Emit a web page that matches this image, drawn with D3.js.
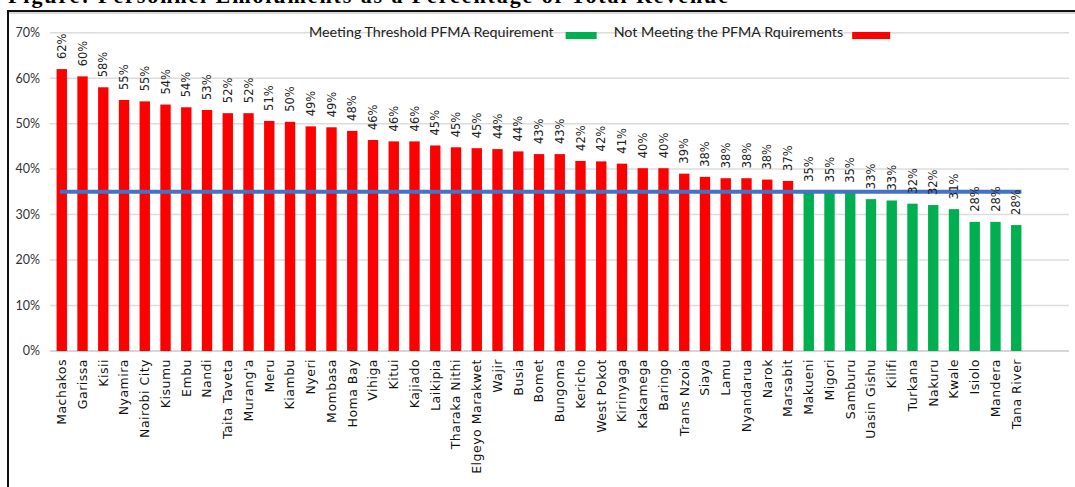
<!DOCTYPE html>
<html>
<head>
<meta charset="utf-8">
<script src="https://cdn.jsdelivr.net/npm/d3@7"></script>
<style>
  html, body { margin: 0; padding: 0; background: #fff; }
  svg { display: block; }
</style>
</head>
<body>
<svg id="chart" width="1075" height="487"></svg>
<script>
const counties = ["Machakos","Garissa","Kisii","Nyamira","Nairobi City","Kisumu","Embu","Nandi","Taita Taveta","Murang'a","Meru","Kiambu","Nyeri","Mombasa","Homa Bay","Vihiga","Kitui","Kajiado","Laikipia","Tharaka Nithi","Elgeyo Marakwet","Wajir","Busia","Bomet","Bungoma","Kericho","West Pokot","Kirinyaga","Kakamega","Baringo","Trans Nzoia","Siaya","Lamu","Nyandarua","Narok","Marsabit","Makueni","Migori","Samburu","Uasin Gishu","Kilifi","Turkana","Nakuru","Kwale","Isiolo","Mandera","Tana River"];
const shares = [62.0,60.4,58.0,55.2,54.9,54.2,53.6,53.0,52.3,52.3,50.6,50.4,49.4,49.2,48.4,46.4,46.1,46.1,45.2,44.8,44.6,44.4,43.9,43.3,43.3,41.8,41.7,41.2,40.2,40.2,39.0,38.3,38.0,38.0,37.7,37.4,35.0,34.9,34.8,33.4,33.1,32.4,32.1,31.2,28.4,28.4,27.7];
const threshold = 35;
const yTicks = [0,10,20,30,40,50,60,70];
const legendLabels = ["Meeting Threshold PFMA Requirement","Not Meeting the PFMA Rquirements"];
const titleText = "Figure: Personnel Emoluments as a Percentage of Total Revenue";

const data = counties.map((c,i)=>({county:c, value:shares[i]}));
const svg = d3.select("#chart");
const GREEN = "#00B050", RED = "#FF0000", BLUE = "#4472C4";

// title (cut off at top, as in the source)
svg.append("text").attr("x", 8).attr("y", 3)
  .attr("font-family", "Liberation Serif, serif").attr("font-weight", "bold")
  .attr("font-size", 22).attr("fill", "#000")
  .attr("textLength", 720).attr("lengthAdjust", "spacing")
  .text(titleText);

// frame
svg.append("line").attr("x1", 8).attr("x2", 1075).attr("y1", 13).attr("y2", 13).attr("stroke", "#ccc").attr("stroke-width", 1.5);
svg.append("line").attr("x1", 7).attr("x2", 1075).attr("y1", 11).attr("y2", 11).attr("stroke", "#111").attr("stroke-width", 2);
svg.append("line").attr("x1", 8).attr("x2", 8).attr("y1", 10).attr("y2", 487).attr("stroke", "#111").attr("stroke-width", 2);

const y = d3.scaleLinear().domain([0,70]).range([351, 32.7]);
const x = d3.scaleBand().domain(counties).range([51.4, 1026.6]).paddingInner(0.5).paddingOuter(0.25);

// gridlines
svg.append("g").selectAll("line").data(yTicks).join("line")
  .attr("x1", 50).attr("x2", 1069)
  .attr("y1", d=>y(d)).attr("y2", d=>y(d))
  .attr("stroke", d=> d===0 ? "#c8c8c8" : "#dcdcdc").attr("stroke-width", 1.5);

// y tick labels
svg.append("g").selectAll("text").data(yTicks).join("text")
  .attr("x", 40).attr("y", d=>y(d)).attr("dy", "0.35em")
  .attr("text-anchor", "end")
  .attr("font-family", "Lato, sans-serif").attr("font-size", 12.5).attr("fill", "#333")
  .text(d=>d+"%");

// bars
svg.append("g").selectAll("rect").data(data).join("rect")
  .attr("x", d=>x(d.county)).attr("width", x.bandwidth())
  .attr("y", d=>y(d.value)).attr("height", d=>y(0)-y(d.value))
  .attr("fill", d=> d.value <= threshold ? GREEN : RED);

// threshold line
const first = counties[0], last = counties[counties.length-1];
svg.append("line")
  .attr("x1", x(first) + x.bandwidth()*0.33).attr("x2", x(last) + x.bandwidth())
  .attr("y1", y(threshold)).attr("y2", y(threshold))
  .attr("stroke", BLUE).attr("stroke-width", 4);

// value labels
svg.append("g").selectAll("text").data(data).join("text")
  .attr("transform", d=>`translate(${x(d.county)+x.bandwidth()/2},${y(d.value)-10}) rotate(-90)`)
  .attr("dy", "0.35em")
  .attr("text-anchor", "start")
  .attr("font-family", "DejaVu Sans, sans-serif").attr("font-size", 11.5).attr("fill", "#222")
  .text(d=>Math.round(d.value)+"%");

// category labels
svg.append("g").selectAll("text").data(data).join("text")
  .attr("transform", d=>`translate(${x(d.county)+x.bandwidth()/2},359) rotate(-90)`)
  .attr("dy", "0.35em")
  .attr("text-anchor", "end")
  .attr("font-family", "DejaVu Sans, sans-serif").attr("font-size", 12.5).attr("letter-spacing", "0.5px").attr("fill", "#111")
  .text(d=>d.county);

// legend
const lg = svg.append("g").attr("font-family", "Lato, sans-serif").attr("font-size", 14.3).attr("fill", "#222");
const t1 = lg.append("text").attr("x", 309).attr("y", 37).text(legendLabels[0]);
const w1 = t1.node().getComputedTextLength();
lg.append("rect").attr("x", 309 + w1 + 12).attr("y", 32).attr("width", 31).attr("height", 7).attr("fill", GREEN);
const t2x = 309 + w1 + 12 + 31 + 17;
const t2 = lg.append("text").attr("x", t2x).attr("y", 37).text(legendLabels[1]);
const w2 = t2.node().getComputedTextLength();
lg.append("rect").attr("x", t2x + w2 + 9).attr("y", 32).attr("width", 38).attr("height", 7).attr("fill", RED);
</script>
</body>
</html>
